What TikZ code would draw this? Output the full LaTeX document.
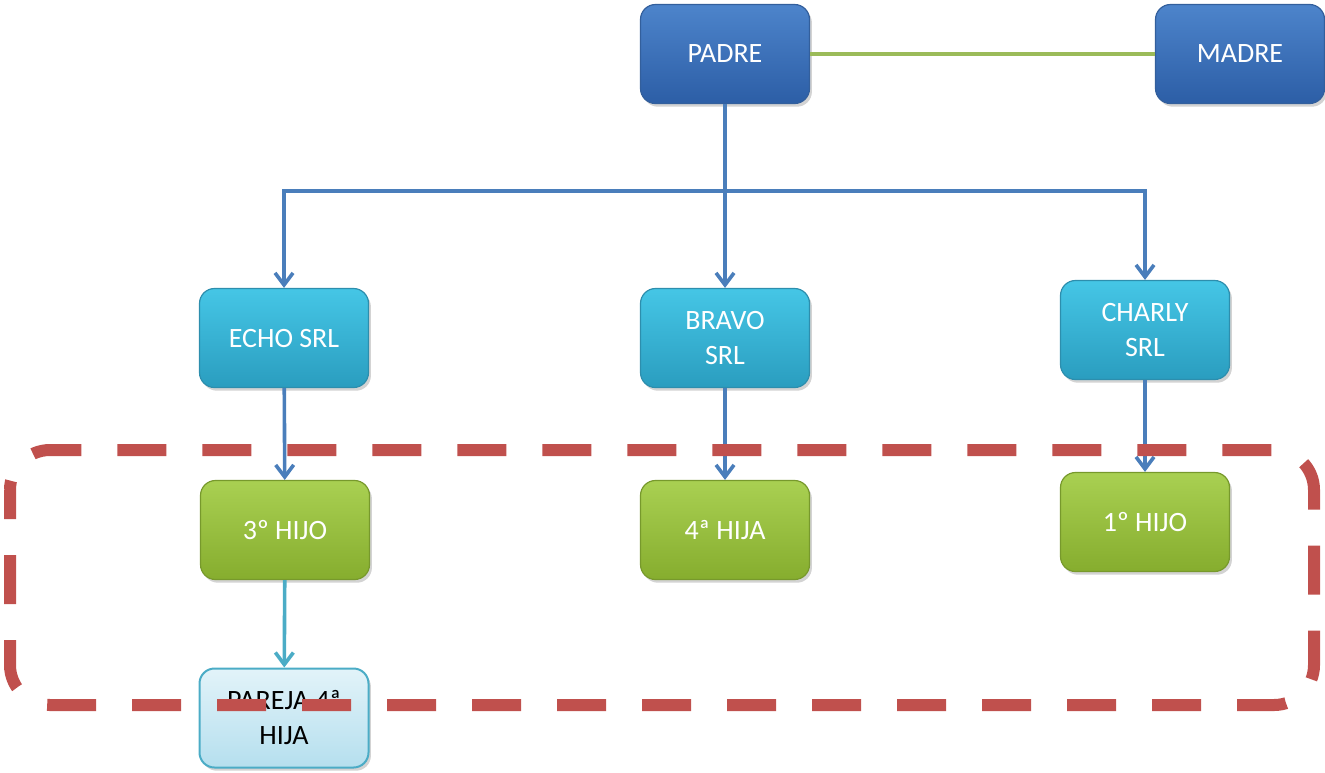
\documentclass[tikz,border=0pt]{standalone}
\usepackage{fontspec}
\setmainfont{Carlito}
\usetikzlibrary{arrows.meta,shadows}

\definecolor{bluetop}{HTML}{4D84CB}
\definecolor{bluebot}{HTML}{2C5EA6}
\definecolor{blueedge}{HTML}{335F9C}
\definecolor{cyantop}{HTML}{45C6E6}
\definecolor{cyanbot}{HTML}{2A9DBF}
\definecolor{cyanedge}{HTML}{2D8EAD}
\definecolor{greentop}{HTML}{A9D052}
\definecolor{greenbot}{HTML}{86AD2E}
\definecolor{greenedge}{HTML}{77992C}
\definecolor{palettop}{HTML}{E2F3F9}
\definecolor{palebot}{HTML}{B5DFEE}
\definecolor{paleedge}{HTML}{4BACC6}
\definecolor{linkblue}{HTML}{4A7EBB}
\definecolor{linkcyan}{HTML}{4BACC6}
\definecolor{linkgreen}{HTML}{9BBB59}
\definecolor{framered}{HTML}{C0504D}

\begin{document}
\begin{tikzpicture}[x=0.5pt,y=-0.5pt,
  box/.style={rounded corners=7.5pt, minimum width=84.5pt, minimum height=49.5pt,
    align=center, inner sep=2pt, font=\fontsize{14}{17.5}\selectfont, text=white,
    line width=0.6pt,
    drop shadow={opacity=0.35, shadow xshift=1.2pt, shadow yshift=-1.6pt}},
  bluebox/.style={box, draw=blueedge, top color=bluetop, bottom color=bluebot},
  cyanbox/.style={box, draw=cyanedge, top color=cyantop, bottom color=cyanbot},
  greenbox/.style={box, draw=greenedge, top color=greentop, bottom color=greenbot},
  palebox/.style={box, draw=paleedge, line width=1pt, top color=palettop, bottom color=palebot, text=black},
  link/.style={draw=linkblue, line width=1.8pt},
  arrowlink/.style={link, -{Straight Barb[length=6pt, width=9pt, line width=1.8pt]}},
  softarrow/.style={arrowlink, draw=linkcyan},
  spouse/.style={draw=linkgreen, line width=1.6pt},
  frame/.style={draw=framered, line width=6pt, rounded corners=20pt,
    dash pattern=on 24.5pt off 18pt, dash phase=10pt}
]
\useasboundingbox (0,0) rectangle (1325,772);

% family heads
\node[bluebox] (padre) at (725,54) {PADRE};
\node[bluebox] (madre) at (1240,54) {MADRE};

% companies
\node[cyanbox] (echo) at (284,338) {ECHO SRL};
\node[cyanbox] (bravo) at (725,338) {BRAVO\\SRL};
\node[cyanbox] (charly) at (1145,330) {CHARLY\\SRL};

% children
\node[greenbox] (hijo3) at (285,530) {3º HIJO};
\node[greenbox] (hija4) at (725,530) {4ª HIJA};
\node[greenbox] (hijo1) at (1145,522) {1º HIJO};

% partner
\node[palebox] (pareja) at (284,718) {PAREJA 4ª\\HIJA};

% connectors
\draw[spouse] (padre) -- (madre);
\coordinate (bus) at (725,191);
\draw[link] (padre) -- (bus);
\draw[arrowlink] (bus) -| (echo);
\draw[arrowlink] (bus) -- (bravo);
\draw[arrowlink] (bus) -| (charly);
\draw[arrowlink] (echo) -- (hijo3);
\draw[arrowlink] (bravo) -- (hija4);
\draw[arrowlink] (charly) -- (hijo1);
\draw[softarrow] (hijo3) -- (pareja);

% dashed grouping frame
\draw[frame] (10,450) rectangle (1314,705);
\end{tikzpicture}
\end{document}
